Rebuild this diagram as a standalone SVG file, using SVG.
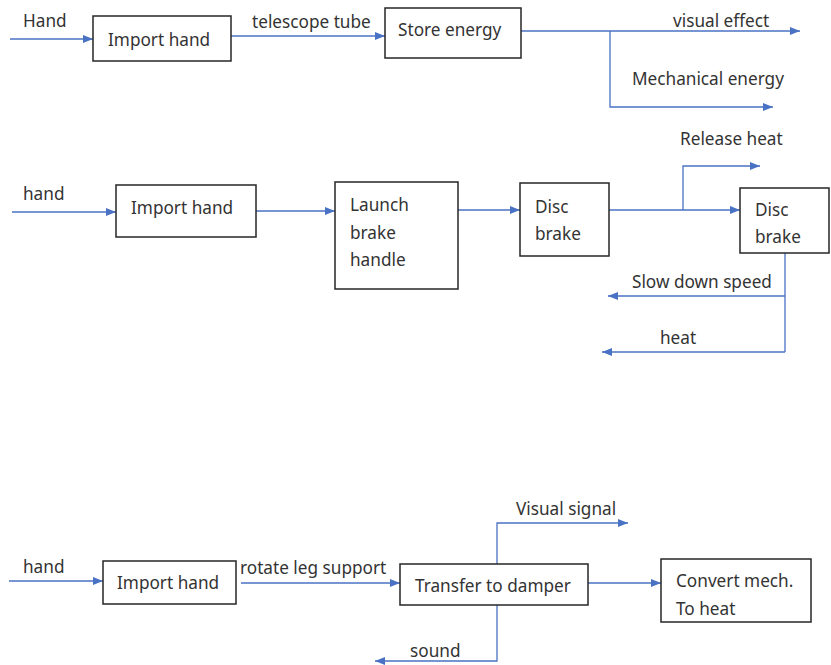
<svg xmlns="http://www.w3.org/2000/svg" width="831" height="665" viewBox="0 0 831 665">
<style>
.box{fill:#fff;stroke:#262626;stroke-width:1.5}
.t{font-family:"Noto Sans","Liberation Sans",sans-serif;font-size:17.2px;fill:#333}
.c{fill:none;stroke:#4a72c4;stroke-width:1.3}
</style>
<defs>
<marker id="ah" markerWidth="10" markerHeight="8" refX="10" refY="4" orient="auto" markerUnits="userSpaceOnUse">
<path d="M0,0 L10,4 L0,8 Z" fill="#4a72c4"/>
</marker>
</defs>
<rect width="831" height="665" fill="#fff"/>
<g id="connectors">
<path class="c" d="M10,39 H93" marker-end="url(#ah)"/>
<path class="c" d="M231,36 H385" marker-end="url(#ah)"/>
<path class="c" d="M521,31 H800" marker-end="url(#ah)"/>
<path class="c" d="M610,31 V107 H773" marker-end="url(#ah)"/>
<path class="c" d="M12,212 H116" marker-end="url(#ah)"/>
<path class="c" d="M256,211 H335" marker-end="url(#ah)"/>
<path class="c" d="M458,210 H520" marker-end="url(#ah)"/>
<path class="c" d="M609,210 H740" marker-end="url(#ah)"/>
<path class="c" d="M683,210 V166 H760" marker-end="url(#ah)"/>
<path class="c" d="M785,253 V352"/>
<path class="c" d="M785,296 H608" marker-end="url(#ah)"/>
<path class="c" d="M785,352 H602" marker-end="url(#ah)"/>
<path class="c" d="M9,581 H103" marker-end="url(#ah)"/>
<path class="c" d="M241,583 H400" marker-end="url(#ah)"/>
<path class="c" d="M497,564 V523 H628" marker-end="url(#ah)"/>
<path class="c" d="M588,583 H661" marker-end="url(#ah)"/>
<path class="c" d="M497,605 V661 H375" marker-end="url(#ah)"/>
</g>
<g id="labels">
<text class="t" x="23" y="27">Hand</text>
<text class="t" x="252" y="28">telescope tube</text>
<text class="t" x="673" y="27">visual effect</text>
<text class="t" x="632" y="85">Mechanical energy</text>
<text class="t" x="23" y="200">hand</text>
<text class="t" x="680" y="145">Release heat</text>
<text class="t" x="632" y="288">Slow down speed</text>
<text class="t" x="660" y="344">heat</text>
<text class="t" x="23" y="573">hand</text>
<text class="t" x="240" y="574">rotate leg support</text>
<text class="t" x="516" y="515">Visual signal</text>
<text class="t" x="410" y="657">sound</text>
</g>
<g id="n1"><rect class="box" x="93" y="16" width="138" height="45"/><text class="t" x="108" y="46">Import hand</text></g>
<g id="n2"><rect class="box" x="385" y="8" width="136" height="50"/><text class="t" x="398" y="36">Store energy</text></g>
<g id="n3"><rect class="box" x="116" y="185" width="140" height="52"/><text class="t" x="131" y="214">Import hand</text></g>
<g id="n4"><rect class="box" x="335" y="182" width="123" height="107"/><text class="t" x="350" y="211">Launch</text><text class="t" x="350" y="239">brake</text><text class="t" x="350" y="266">handle</text></g>
<g id="n5"><rect class="box" x="520" y="183" width="89" height="73"/><text class="t" x="535" y="213">Disc</text><text class="t" x="535" y="240">brake</text></g>
<g id="n6"><rect class="box" x="740" y="188" width="89" height="65"/><text class="t" x="755" y="216">Disc</text><text class="t" x="755" y="243">brake</text></g>
<g id="n7"><rect class="box" x="103" y="561" width="133" height="43"/><text class="t" x="117" y="589">Import hand</text></g>
<g id="n8"><rect class="box" x="400" y="564" width="188" height="41"/><text class="t" x="415" y="592">Transfer to damper</text></g>
<g id="n9"><rect class="box" x="661" y="559" width="150" height="63"/><text class="t" x="676" y="587">Convert mech.</text><text class="t" x="676" y="615">To heat</text></g>
</svg>
